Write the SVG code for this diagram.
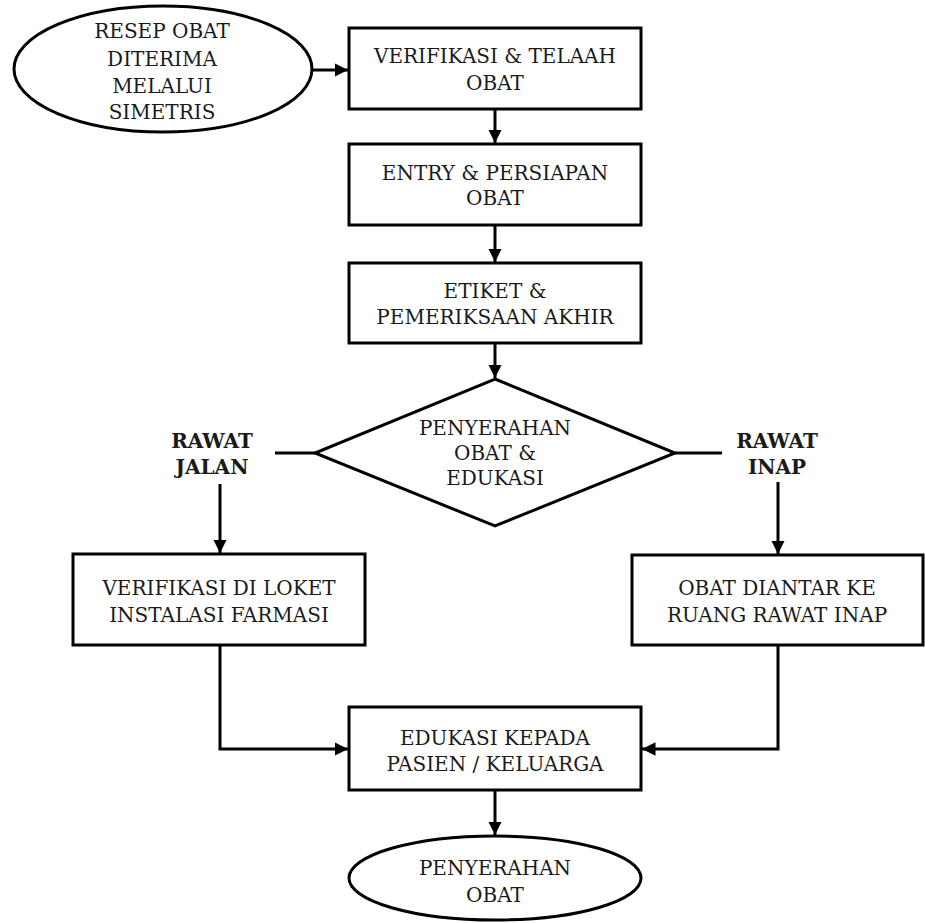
<svg xmlns="http://www.w3.org/2000/svg" width="925" height="923" viewBox="0 0 925 923">
  <style>
    .shape { fill: #fff; stroke: #000; stroke-width: 3; }
    .line { fill: none; stroke: #000; stroke-width: 3; }
    .t { font-family: "DejaVu Serif", "Liberation Serif", serif; font-size: 20px; fill: #1a1a1a; text-anchor: middle; }
    .b { font-weight: bold; }
  </style>
  <defs>
    <marker id="arrow" viewBox="0 0 10 10" refX="10" refY="5" markerWidth="4.5" markerHeight="4.5" markerUnits="strokeWidth" orient="auto">
      <path d="M0,0 L10,5 L0,10 z" fill="#000"/>
    </marker>
  </defs>
  <rect width="925" height="923" fill="#fff"/>

  <!-- connectors -->
  <g id="connectors">
    <line class="line" x1="313" y1="70" x2="348" y2="70" marker-end="url(#arrow)"/>
    <line class="line" x1="495" y1="109" x2="495" y2="143" marker-end="url(#arrow)"/>
    <line class="line" x1="495" y1="225" x2="495" y2="262" marker-end="url(#arrow)"/>
    <line class="line" x1="495" y1="343" x2="495" y2="378" marker-end="url(#arrow)"/>
    <line class="line" x1="275" y1="453" x2="315" y2="453"/>
    <line class="line" x1="675" y1="453" x2="722" y2="453"/>
    <line class="line" x1="220" y1="484" x2="220" y2="553" marker-end="url(#arrow)"/>
    <line class="line" x1="778" y1="482" x2="778" y2="554" marker-end="url(#arrow)"/>
    <polyline class="line" points="220,645 220,749 348,749" marker-end="url(#arrow)"/>
    <polyline class="line" points="778,645 778,749 642,749" marker-end="url(#arrow)"/>
    <line class="line" x1="495" y1="790" x2="495" y2="835" marker-end="url(#arrow)"/>
  </g>

  <g id="start">
    <ellipse class="shape" cx="163" cy="69" rx="149" ry="63"/>
    <text class="t" x="162" y="38">RESEP OBAT</text>
    <text class="t" x="162" y="66">DITERIMA</text>
    <text class="t" x="162" y="93">MELALUI</text>
    <text class="t" x="162" y="119">SIMETRIS</text>
  </g>

  <g id="verifikasi-telaah">
    <rect class="shape" x="349" y="28" width="292" height="81"/>
    <text class="t" x="495" y="63">VERIFIKASI &amp; TELAAH</text>
    <text class="t" x="495" y="90">OBAT</text>
  </g>

  <g id="entry-persiapan">
    <rect class="shape" x="349" y="144" width="292" height="81"/>
    <text class="t" x="495" y="180">ENTRY &amp; PERSIAPAN</text>
    <text class="t" x="495" y="205">OBAT</text>
  </g>

  <g id="etiket">
    <rect class="shape" x="349" y="263" width="292" height="80"/>
    <text class="t" x="495" y="298">ETIKET &amp;</text>
    <text class="t" x="495" y="324">PEMERIKSAAN AKHIR</text>
  </g>

  <g id="penyerahan-edukasi">
    <polygon class="shape" points="495,379 675,453 495,526 315,453"/>
    <text class="t" x="495" y="435">PENYERAHAN</text>
    <text class="t" x="495" y="460">OBAT &amp;</text>
    <text class="t" x="495" y="485">EDUKASI</text>
  </g>

  <g id="label-rawat-jalan">
    <text class="t b" x="212" y="448">RAWAT</text>
    <text class="t b" x="212" y="474">JALAN</text>
  </g>

  <g id="label-rawat-inap">
    <text class="t b" x="777" y="448">RAWAT</text>
    <text class="t b" x="777" y="474">INAP</text>
  </g>

  <g id="verifikasi-loket">
    <rect class="shape" x="73" y="554" width="292" height="91"/>
    <text class="t" x="219" y="595">VERIFIKASI DI LOKET</text>
    <text class="t" x="219" y="622">INSTALASI FARMASI</text>
  </g>

  <g id="obat-diantar">
    <rect class="shape" x="632" y="555" width="291" height="90"/>
    <text class="t" x="777" y="595">OBAT DIANTAR KE</text>
    <text class="t" x="777" y="622">RUANG RAWAT INAP</text>
  </g>

  <g id="edukasi-pasien">
    <rect class="shape" x="349" y="707" width="292" height="83"/>
    <text class="t" x="495" y="745">EDUKASI KEPADA</text>
    <text class="t" x="495" y="771">PASIEN / KELUARGA</text>
  </g>

  <g id="end">
    <ellipse class="shape" cx="495" cy="878" rx="146" ry="42"/>
    <text class="t" x="495" y="875">PENYERAHAN</text>
    <text class="t" x="495" y="902">OBAT</text>
  </g>
</svg>
